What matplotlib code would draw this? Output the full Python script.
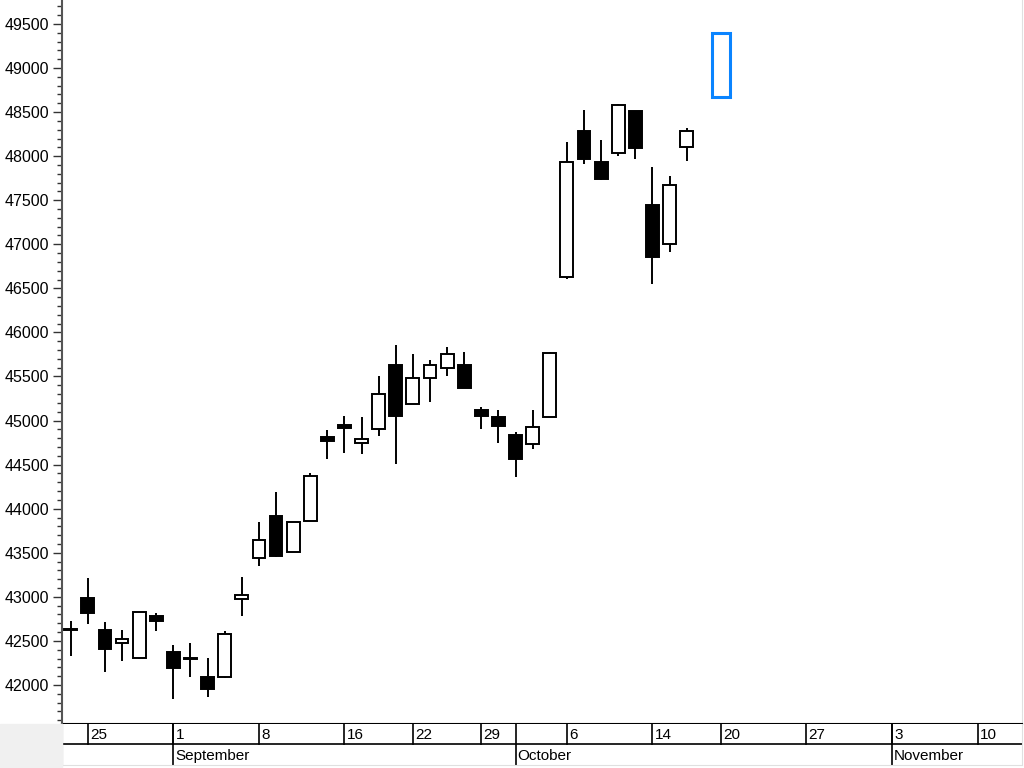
import numpy as np
import pandas as pd
import matplotlib
matplotlib.use("Agg")
import matplotlib.pyplot as plt
from matplotlib.patches import Rectangle
from matplotlib.ticker import MultipleLocator, FormatStrFormatter

plt.rcParams['font.family'] = ['Liberation Sans', 'DejaVu Sans']

# trading calendar on the axis (Japanese holidays dropped)
holidays = ["2025-09-15", "2025-09-23", "2025-10-13"]
days = pd.bdate_range("2025-08-22", "2025-11-12").drop(pd.to_datetime(holidays))

# daily candles, Aug 22 .. Oct 16
opens = [42620, 42984, 42624, 42480, 42306, 42783, 42371, 42295, 42087, 42091,
         42976, 43441, 43917, 43512, 43864, 44810, 44953, 44749, 44905, 45634,
         45188, 45480, 45600, 45634, 45120, 45044, 44837, 44734, 45044, 46633,
         48282, 47931, 48036, 48509, 47446, 47004, 48108]
highs = [42726, 43211, 42711, 42624, 42830, 42813, 42454, 42473, 42303, 42613,
         43222, 43846, 44186, 43850, 44402, 44893, 45052, 45037, 45506, 45858,
         45756, 45687, 45832, 45775, 45151, 45120, 44874, 45120, 45775, 48157,
         48524, 48184, 48592, 48515, 47874, 47775, 48316]
lows = [42332, 42692, 42151, 42276, 42300, 42616, 41838, 42087, 41867, 42080,
        42786, 43354, 43456, 43505, 43860, 44561, 44629, 44621, 44829, 44504,
        45185, 45214, 45509, 45365, 44901, 44742, 44363, 44674, 45040, 46606,
        47911, 47735, 48006, 47965, 46546, 46909, 47945]
closes = [42640, 42820, 42405, 42525, 42825, 42730, 42189, 42310, 41951, 42582,
          43021, 43645, 43467, 43846, 44371, 44772, 44916, 44795, 45305, 45056,
          45487, 45627, 45756, 45370, 45056, 44942, 44561, 44931, 45770, 47937,
          47965, 47738, 48581, 48089, 46860, 47670, 48282]

# blue box on Oct 20
box_day = "2025-10-20"
box_low, box_high = 48666, 49403

o = np.array(opens)
h = np.array(highs)
l = np.array(lows)
c = np.array(closes)
x = np.arange(len(o))
up = c >= o

fig = plt.figure(figsize=(10.24, 7.68), dpi=100)
W, H = 1024, 768
ax = fig.add_axes([62 / W, 44 / H, 960 / W, 724 / H])
ax.set_xlim(-0.51, 55.6)
ax.set_ylim(41557, 49772)

ax.vlines(x, l, h, color='black', lw=1.4, zorder=1)
ax.bar(x, np.maximum(np.abs(c - o), 15), bottom=np.minimum(o, c), width=0.75,
       color=np.where(up, 'white', 'black'), edgecolor='black', linewidth=1.4, zorder=2)

i = days.get_loc(pd.Timestamp(box_day))
ax.add_patch(Rectangle((i - 0.53, box_low), 1.06, box_high - box_low, fill=False,
                       edgecolor='#0a84ff', lw=2.2, zorder=3))

ax.yaxis.set_major_locator(MultipleLocator(500))
ax.yaxis.set_minor_locator(MultipleLocator(100))
ax.yaxis.set_major_formatter(FormatStrFormatter('%d'))
ax.tick_params(axis='y', which='major', length=6.5, width=1, color='#333333',
               labelsize=11.5, pad=3)
ax.tick_params(axis='y', which='minor', length=3.6, width=1, color='#333333')
ax.tick_params(axis='x', bottom=False, labelbottom=False)
ax.spines['top'].set_visible(False)
ax.spines['right'].set_color('#e0e0e0')
ax.spines['left'].set_color('#555555')
ax.spines['left'].set_linewidth(1.5)
ax.spines['bottom'].set_color('black')
ax.spines['bottom'].set_linewidth(1.5)

# date band under the chart
bax = fig.add_axes([62 / W, 3 / H, 960 / W, 41 / H])
bax.set_xlim(ax.get_xlim())
bax.set_ylim(0, 41)
bax.set_xticks([])
bax.set_yticks([])
bax.spines['top'].set_visible(False)
bax.spines['right'].set_color('#e0e0e0')
bax.spines['bottom'].set_color('#e0e0e0')
bax.spines['left'].set_color('#555555')
bax.spines['left'].set_linewidth(1.5)
bax.axhline(21, color='black', lw=1.2)

for k in range(1, len(days)):
    d, prev = days[k], days[k - 1]
    new_month = d.month != prev.month
    new_week = d.isocalendar().week != prev.isocalendar().week
    if new_month:
        bax.plot([k, k], [0, 41], color='black', lw=1.2)
        bax.text(k + 0.12, 9, d.strftime('%B'), ha='left', va='center', fontsize=11)
    if new_week:
        bax.plot([k, k], [21, 41], color='black', lw=1.2)
        bax.text(k + 0.12, 30, str(d.day), ha='left', va='center', fontsize=11)

fig.patches.append(Rectangle((0, 0), 62 / W, 44 / H, transform=fig.transFigure,
                             color='#f0f0f0', zorder=0))

fig.savefig('out.png', dpi=100)
